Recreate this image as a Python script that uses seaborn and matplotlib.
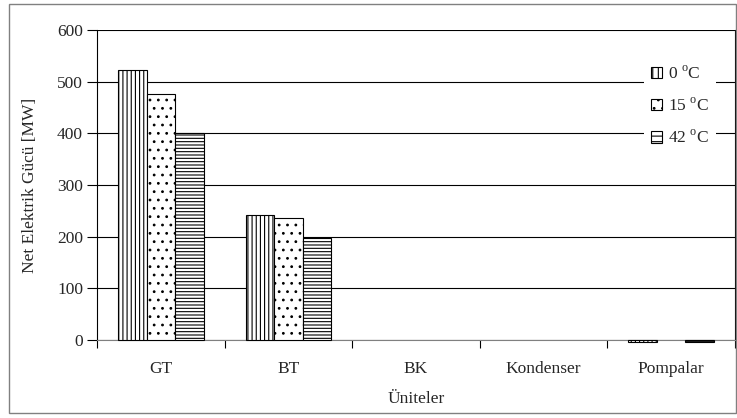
import matplotlib
matplotlib.use("Agg")
import matplotlib.pyplot as plt
import matplotlib.patches as mpatches
import seaborn as sns
import pandas as pd

units = ["GT", "BT", "BK", "Kondenser", "Pompalar"]
temps = ["0 $^{\\mathrm{o}}$C", "15 $^{\\mathrm{o}}$C", "42 $^{\\mathrm{o}}$C"]
p_0 = [522, 242, 0, 0, -3]
p_15 = [477, 237, 0, 0, 0]
p_42 = [400, 197, 0, 0, -3]
yticks = [0, 100, 200, 300, 400, 500, 600]

sns.set_theme(style="white")
plt.rcParams["font.family"] = ["Liberation Serif", "DejaVu Serif"]
plt.rcParams["mathtext.fontset"] = "custom"
plt.rcParams["mathtext.rm"] = "Liberation Serif"
plt.rcParams["hatch.linewidth"] = 0.8
plt.rcParams["hatch.color"] = "black"

FS = 12.5

rows = []
for t, vals in zip(temps, [p_0, p_15, p_42]):
    for u, v in zip(units, vals):
        rows.append({"Unit": u, "Temp": t, "Power": v})
df = pd.DataFrame(rows)

fig = plt.figure(figsize=(7.37, 4.18), dpi=100)
ax = fig.add_axes([0.1316, 0.1866, 0.8657, 0.7416])

sns.barplot(data=df, x="Unit", y="Power", hue="Temp", order=units, hue_order=temps,
            width=0.67, palette=["white"] * 3, edgecolor="black", linewidth=0.8,
            saturation=1, ax=ax, legend=False, zorder=3)

hatches = ["||||", "..", "-----"]
for cont, h in zip(ax.containers, hatches):
    for bar in cont:
        bar.set_hatch(h)
        bar.set_facecolor("white")
        bar.set_edgecolor("black")
        bar.set_clip_on(False)
        if bar.get_height() == 0:
            bar.set_visible(False)

ax.set_ylim(0, 600)
ax.set_xlim(-0.5, 4.5)
ax.set_yticks(yticks)
ax.yaxis.grid(True, color="black", linewidth=0.8, zorder=0)
ax.set_axisbelow(True)
ax.tick_params(axis="y", which="both", length=7, width=0.8, direction="out", left=True,
               labelsize=FS, color="black", pad=3)
ax.set_xticks(range(len(units)))
ax.set_xticklabels(units, fontsize=FS)
ax.tick_params(axis="x", length=0, pad=15)
ax.set_xticks([-0.5, 0.5, 1.5, 2.5, 3.5, 4.5], minor=True)
ax.tick_params(axis="x", which="minor", length=6, width=0.8, direction="out", bottom=True, color="black")

for s in ["left", "bottom", "right"]:
    ax.spines[s].set_visible(True)
    ax.spines[s].set_color("black")
    ax.spines[s].set_linewidth(0.8)
ax.spines["bottom"].set_color("#808080")
ax.spines["top"].set_visible(False)

ax.set_ylabel("Net Elektrik Gücü [MW]", fontsize=FS, labelpad=14)
ax.set_xlabel("Üniteler", fontsize=FS, labelpad=10)

handles = [mpatches.Patch(facecolor="white", edgecolor="black", hatch=h, linewidth=0.8)
           for h in ["|||", "..", "---"]]
leg = ax.legend(handles, temps, loc="upper right", bbox_to_anchor=(0.975, 0.92), frameon=True,
                fontsize=FS, handlelength=0.65, handleheight=0.65, handletextpad=0.3,
                labelspacing=0.85, borderpad=0.4, borderaxespad=0.2, fancybox=False)
leg.get_frame().set_edgecolor("none")
leg.get_frame().set_facecolor("white")
leg.get_frame().set_alpha(1)
leg.set_zorder(5)

fig.patches.append(mpatches.Rectangle((9 / 737, 1 - 413 / 418), 727 / 737, 409 / 418,
                                      transform=fig.transFigure, fill=False,
                                      edgecolor="#808080", linewidth=1))

fig.savefig("out.png", dpi=100)
